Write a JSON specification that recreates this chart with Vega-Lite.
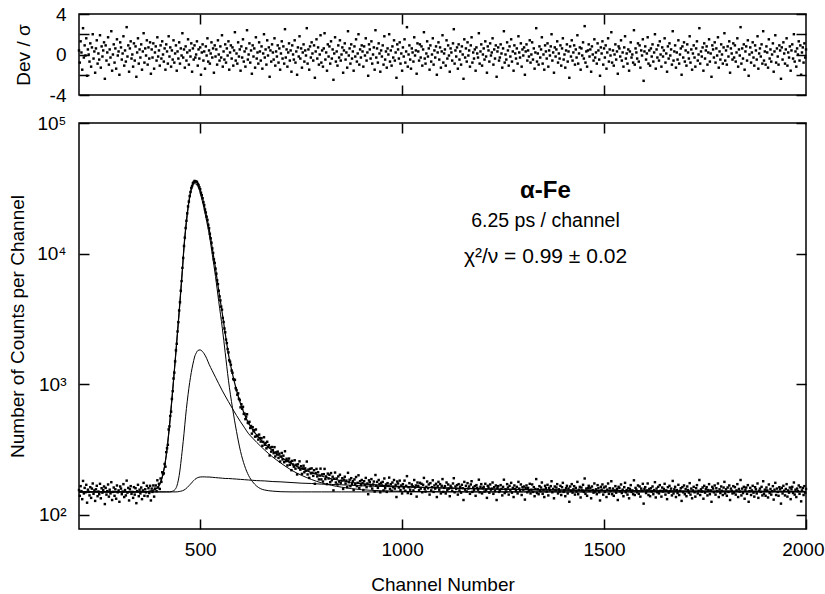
{
"$schema":"https://vega.github.io/schema/vega-lite/v6.json",
"autosize":{"type":"pad"},
"padding":{"left":7,"top":4,"right":0,"bottom":0},
"background":"white",
"config":{"font":"Liberation Sans","view":{"stroke":"#000","strokeWidth":1.5},"axis":{"domain":false,"grid":false,"tickColor":"#000","tickWidth":1.5,"labelColor":"#000","labelFontSize":19,"labelFont":"Liberation Sans","titleColor":"#000","titleFontSize":19,"titleFont":"Liberation Sans","titleFontWeight":"normal"}},
"spacing":7,
"datasets":{
"fit":[
{"c":200,"t":150,"m":150,"p":150,"q":150},{"c":360,"t":150,"m":150,"p":150,"q":150},{"c":370,"t":151,"m":151,"p":150,"q":150},{"c":380,"t":153,"m":153,"p":150,"q":150},{"c":390,"t":158,"m":158,"p":150,"q":150},{"c":400,"t":172,"m":172,"p":150,"q":150},{"c":408,"t":205,"m":205,"p":150,"q":150},{"c":416,"t":285,"m":285,"p":150,"q":150},{"c":424,"t":480,"m":480,"p":150,"q":150},{"c":432,"t":900,"m":898,"p":152,"q":150},{"c":440,"t":1780,"m":1770,"p":160,"q":150},{"c":448,"t":3600,"m":3549,"p":200,"q":151},{"c":456,"t":7600,"m":7427,"p":320,"q":153},{"c":460,"t":11380,"m":11105,"p":420,"q":155},{"c":464,"t":15600,"m":15172,"p":570,"q":158},{"c":468,"t":20320,"m":19718,"p":740,"q":162},{"c":472,"t":25180,"m":24383,"p":930,"q":167},{"c":476,"t":29670,"m":28668,"p":1130,"q":172},{"c":480,"t":33230,"m":32022,"p":1330,"q":178},{"c":484,"t":35380,"m":33977,"p":1520,"q":183},{"c":487,"t":35900,"m":34363,"p":1650,"q":187},{"c":490,"t":35630,"m":34010,"p":1730,"q":190},{"c":494,"t":34440,"m":32737,"p":1810,"q":193},{"c":500,"t":31010,"m":29282,"p":1833,"q":195},{"c":505,"t":27170,"m":25484,"p":1790,"q":195.5},{"c":510,"t":23500,"m":21894,"p":1710,"q":195.5},{"c":516,"t":19200,"m":17725,"p":1580,"q":195},{"c":522,"t":15600,"m":14280,"p":1425,"q":195},{"c":530,"t":11000,"m":9838,"p":1268,"q":194},{"c":538,"t":7700,"m":6676,"p":1131,"q":193},{"c":546,"t":5200,"m":4298,"p":1010,"q":192},{"c":555,"t":3450,"m":2668,"p":891,"q":191},{"c":562,"t":2450,"m":1746,"p":814,"q":190},{"c":570,"t":1700,"m":1074,"p":736,"q":190},{"c":580,"t":1200,"m":660,"p":651,"q":189},{"c":590,"t":900,"m":435,"p":577,"q":188},{"c":600,"t":709,"m":306,"p":516,"q":187},{"c":610,"t":588,"m":238,"p":464,"q":186},{"c":620,"t":503,"m":200,"p":418,"q":185},{"c":630,"t":450,"m":179,"p":387,"q":184},{"c":640,"t":408,"m":166,"p":359,"q":183},{"c":650,"t":376,"m":158.5,"p":335,"q":182.5},{"c":660,"t":350,"m":155,"p":313,"q":182},{"c":680,"t":309,"m":152,"p":277,"q":180},{"c":700,"t":278,"m":150.5,"p":249,"q":179},{"c":725,"t":248,"m":150,"p":221,"q":177},{"c":750,"t":227,"m":150,"p":201.5,"q":175},{"c":775,"t":211,"m":150,"p":187,"q":174},{"c":800,"t":198.5,"m":150,"p":176,"q":172},{"c":850,"t":182.5,"m":150,"p":163,"q":170},{"c":900,"t":173.4,"m":150,"p":156,"q":167},{"c":950,"t":168.3,"m":150,"p":153,"q":165},{"c":1000,"t":165.1,"m":150,"p":151.5,"q":163.6},{"c":1100,"t":161,"m":150,"p":150.4,"q":160.6},{"c":1200,"t":158.2,"m":150,"p":150,"q":158.2},{"c":1300,"t":156.4,"m":150,"p":150,"q":156.4},{"c":1400,"t":155,"m":150,"p":150,"q":155},{"c":1500,"t":153.9,"m":150,"p":150,"q":153.9},{"c":1600,"t":153,"m":150,"p":150,"q":153},{"c":1700,"t":152.4,"m":150,"p":150,"q":152.4},{"c":1800,"t":151.8,"m":150,"p":150,"q":151.8},{"c":1900,"t":151.4,"m":150,"p":150,"q":151.4},{"c":2000,"t":151.1,"m":150,"p":150,"q":151.1}
],
"pts":[
{"c":200,"n":155,"r":0.4},{"c":202,"n":140,"r":-0.8},{"c":204,"n":166,"r":1.3},{"c":206,"n":152,"r":0.2},{"c":208,"n":132,"r":-1.5},{"c":210,"n":182,"r":2.6},{"c":212,"n":146,"r":-0.3},{"c":214,"n":161,"r":0.9},{"c":216,"n":149,"r":-0.1},{"c":218,"n":170,"r":1.6},
{"c":220,"n":124,"r":-2.1},{"c":222,"n":156,"r":0.5},{"c":224,"n":150,"r":0},{"c":226,"n":141,"r":-0.7},{"c":228,"n":163,"r":1.1},{"c":230,"n":135,"r":-1.2},{"c":232,"n":159,"r":0.7},{"c":234,"n":174,"r":2.0},{"c":236,"n":145,"r":-0.4},{"c":238,"n":154,"r":0.3},
{"c":240,"n":128,"r":-1.8},{"c":242,"n":157,"r":0.6},{"c":244,"n":167,"r":1.4},{"c":246,"n":139,"r":-0.9},{"c":248,"n":151,"r":0.1},{"c":250,"n":144,"r":-0.5},{"c":252,"n":173,"r":1.9},{"c":254,"n":134,"r":-1.3},{"c":256,"n":160,"r":0.8},{"c":258,"n":148,"r":-0.2},
{"c":260,"n":155,"r":0.4},{"c":262,"n":165,"r":1.2},{"c":264,"n":121,"r":-2.4},{"c":266,"n":161,"r":0.9},{"c":268,"n":143,"r":-0.6},{"c":270,"n":152,"r":0.2},{"c":272,"n":171,"r":1.7},{"c":274,"n":138,"r":-1.0},{"c":276,"n":156,"r":0.5},{"c":278,"n":146,"r":-0.3},
{"c":280,"n":178,"r":2.3},{"c":282,"n":130,"r":-1.6},{"c":284,"n":150,"r":0},{"c":286,"n":162,"r":1.0},{"c":288,"n":140,"r":-0.8},{"c":290,"n":157,"r":0.6},{"c":292,"n":133,"r":-1.4},{"c":294,"n":168,"r":1.5},{"c":296,"n":149,"r":-0.1},{"c":298,"n":154,"r":0.3},
{"c":300,"n":126,"r":-2.0},{"c":302,"n":165,"r":1.2},{"c":304,"n":159,"r":0.7},{"c":306,"n":144,"r":-0.5},{"c":308,"n":151,"r":0.1},{"c":310,"n":172,"r":1.8},{"c":312,"n":137,"r":-1.1},{"c":314,"n":155,"r":0.4},{"c":316,"n":141,"r":-0.7},{"c":318,"n":183,"r":2.7},
{"c":320,"n":148,"r":-0.2},{"c":322,"n":161,"r":0.9},{"c":324,"n":129,"r":-1.7},{"c":326,"n":157,"r":0.6},{"c":328,"n":166,"r":1.3},{"c":330,"n":145,"r":-0.4},{"c":332,"n":150,"r":0},{"c":334,"n":135,"r":-1.2},{"c":336,"n":163,"r":1.1},{"c":338,"n":143,"r":-0.6},
{"c":340,"n":160,"r":0.8},{"c":342,"n":123,"r":-2.2},{"c":344,"n":152,"r":0.2},{"c":346,"n":170,"r":1.6},{"c":348,"n":139,"r":-0.9},{"c":350,"n":156,"r":0.5},{"c":352,"n":146,"r":-0.3},{"c":354,"n":162,"r":1.0},{"c":356,"n":132,"r":-1.5},{"c":358,"n":154,"r":0.3},
{"c":360,"n":176,"r":2.1},{"c":362,"n":140,"r":-0.8},{"c":364,"n":157,"r":0.6},{"c":366,"n":149,"r":-0.1},{"c":368,"n":167,"r":1.4},{"c":370,"n":139,"r":-1.0},{"c":372,"n":160,"r":0.7},{"c":374,"n":147,"r":-0.4},{"c":376,"n":167,"r":1.2},{"c":378,"n":129,"r":-1.9},
{"c":380,"n":159,"r":0.5},{"c":382,"n":150,"r":-0.3},{"c":384,"n":168,"r":1.1},{"c":386,"n":138,"r":-1.4},{"c":388,"n":159,"r":0.2},{"c":390,"n":168,"r":0.8},{"c":392,"n":152,"r":-0.6},{"c":394,"n":184,"r":1.7},{"c":396,"n":162,"r":-0.2},{"c":398,"n":173,"r":0.4},
{"c":400,"n":158,"r":-1.1},{"c":402,"n":190,"r":0.9},{"c":404,"n":179,"r":-0.4},{"c":406,"n":212,"r":1.3},{"c":408,"n":205,"r":0},{"c":410,"n":208,"r":-0.7},{"c":412,"n":245,"r":0.6},{"c":414,"n":234,"r":-1.5},{"c":416,"n":302,"r":1.0},{"c":418,"n":324,"r":0.3},
{"c":420,"n":344,"r":-0.9},{"c":422,"n":451,"r":1.8},{"c":424,"n":476,"r":-0.2},{"c":426,"n":572,"r":0.7},{"c":428,"n":617,"r":-1.2},{"c":430,"n":772,"r":0.4},{"c":432,"n":885,"r":-0.5},{"c":434,"n":1107,"r":1.4},{"c":436,"n":1228,"r":-0.8},{"c":438,"n":1497,"r":0.1},
{"c":440,"n":1818,"r":0.9},{"c":442,"n":2042,"r":-1.6},{"c":444,"n":2536,"r":0.3},{"c":446,"n":2988,"r":-0.4},{"c":448,"n":3672,"r":1.2},{"c":450,"n":4245,"r":-0.9},{"c":452,"n":5195,"r":0.6},{"c":454,"n":6164,"r":-0.1},{"c":456,"n":7783,"r":2.1},{"c":458,"n":9271,"r":-0.3},
{"c":460,"n":11434,"r":0.5},{"c":462,"n":13259,"r":-1.3},{"c":464,"n":15700,"r":0.8},{"c":466,"n":17840,"r":-0.6},{"c":468,"n":20349,"r":0.2},{"c":470,"n":22987,"r":1.5},{"c":472,"n":25021,"r":-1.0},{"c":474,"n":27576,"r":0.4},{"c":476,"n":29636,"r":-0.2},{"c":478,"n":31796,"r":1.1},
{"c":480,"n":32921,"r":-1.7},{"c":482,"n":34622,"r":0.6},{"c":484,"n":35286,"r":-0.5},{"c":486,"n":36010,"r":0.9},{"c":488,"n":35783,"r":-0.3},{"c":490,"n":35630,"r":0},{"c":492,"n":35383,"r":1.3},{"c":494,"n":34235,"r":-1.1},{"c":496,"n":33552,"r":0.5},{"c":498,"n":32238,"r":-0.4},
{"c":500,"n":31133,"r":0.7},{"c":502,"n":29216,"r":-2.0},{"c":504,"n":27983,"r":0.2},{"c":506,"n":26542,"r":1.0},{"c":508,"n":24805,"r":-0.6},{"c":510,"n":23546,"r":0.3},{"c":512,"n":21763,"r":-1.4},{"c":514,"n":20654,"r":0.8},{"c":516,"n":19186,"r":-0.1},{"c":518,"n":18134,"r":1.6},
{"c":520,"n":16630,"r":-0.7},{"c":522,"n":15650,"r":0.4},{"c":524,"n":14182,"r":-0.9},{"c":526,"n":13101,"r":0.1},{"c":528,"n":12121,"r":1.2},{"c":530,"n":10968,"r":-0.3},{"c":532,"n":10120,"r":0.6},{"c":534,"n":9037,"r":-1.8},{"c":536,"n":8503,"r":0.9},{"c":538,"n":7682,"r":-0.2},
{"c":540,"n":7022,"r":0.5},{"c":542,"n":6250,"r":-1.0},{"c":544,"n":5846,"r":1.4},{"c":546,"n":5200,"r":0},{"c":548,"n":4709,"r":-0.6},{"c":550,"n":4383,"r":0.8},{"c":552,"n":3931,"r":-0.3},{"c":554,"n":3724,"r":1.9},{"c":556,"n":3217,"r":-1.2},{"c":558,"n":2997,"r":0.3},
{"c":560,"n":2674,"r":-0.5},{"c":562,"n":2500,"r":1.0},{"c":564,"n":2198,"r":-0.8},{"c":566,"n":2068,"r":0.6},{"c":568,"n":1859,"r":-0.1},{"c":570,"n":1754,"r":1.3},{"c":572,"n":1526,"r":-1.5},{"c":574,"n":1487,"r":0.2},{"c":576,"n":1412,"r":0.9},{"c":578,"n":1273,"r":-0.4},
{"c":580,"n":1224,"r":0.7},{"c":582,"n":1096,"r":-1.1},{"c":584,"n":1082,"r":0.4},{"c":586,"n":1080,"r":2.2},{"c":588,"n":934,"r":-0.6},{"c":590,"n":903,"r":0.1},{"c":592,"n":832,"r":-0.9},{"c":594,"n":852,"r":1.2},{"c":596,"n":774,"r":-0.2},{"c":598,"n":758,"r":0.5},
{"c":600,"n":666,"r":-1.6},{"c":602,"n":704,"r":0.8},{"c":604,"n":650,"r":-0.3},{"c":606,"n":672,"r":1.5},{"c":608,"n":593,"r":-0.7},{"c":610,"n":595,"r":0.3},{"c":612,"n":541,"r":-1.2},{"c":614,"n":566,"r":0.6},{"c":616,"n":590,"r":2.4},{"c":618,"n":508,"r":-0.5},
{"c":620,"n":503,"r":0},{"c":622,"n":516,"r":1.1},{"c":624,"n":463,"r":-0.8},{"c":626,"n":479,"r":0.4},{"c":628,"n":419,"r":-1.9},{"c":630,"n":469,"r":0.9},{"c":632,"n":437,"r":-0.2},{"c":634,"n":445,"r":0.6},{"c":636,"n":397,"r":-1.3},{"c":638,"n":451,"r":1.7},
{"c":640,"n":400,"r":-0.4},{"c":642,"n":405,"r":0.2},{"c":644,"n":377,"r":-0.9},{"c":646,"n":412,"r":1.2},{"c":648,"n":388,"r":0.3},{"c":650,"n":364,"r":-0.6},{"c":652,"n":386,"r":0.8},{"c":654,"n":338,"r":-1.4},{"c":656,"n":362,"r":0.1},{"c":658,"n":393,"r":2.0},
{"c":660,"n":344,"r":-0.3},{"c":662,"n":355,"r":0.5},{"c":664,"n":323,"r":-1.0},{"c":666,"n":363,"r":1.4},{"c":668,"n":331,"r":-0.1},{"c":670,"n":342,"r":0.7},{"c":672,"n":285,"r":-2.2},{"c":674,"n":328,"r":0.4},{"c":676,"n":305,"r":-0.7},{"c":678,"n":331,"r":1.0},
{"c":680,"n":313,"r":0.2},{"c":682,"n":297,"r":-0.5},{"c":684,"n":330,"r":1.6},{"c":686,"n":280,"r":-1.1},{"c":688,"n":301,"r":0.3},{"c":690,"n":290,"r":-0.2},{"c":692,"n":305,"r":0.9},{"c":694,"n":273,"r":-0.8},{"c":696,"n":294,"r":0.6},{"c":698,"n":256,"r":-1.5},
{"c":700,"n":280,"r":0.1},{"c":702,"n":298,"r":1.3},{"c":704,"n":266,"r":-0.4},{"c":706,"n":284,"r":0.8},{"c":708,"n":253,"r":-0.9},{"c":710,"n":307,"r":2.5},{"c":712,"n":258,"r":-0.3},{"c":714,"n":269,"r":0.5},{"c":716,"n":239,"r":-1.2},{"c":718,"n":259,"r":0.2},
{"c":720,"n":270,"r":1.1},{"c":722,"n":242,"r":-0.6},{"c":724,"n":255,"r":0.4},{"c":726,"n":220,"r":-1.7},{"c":728,"n":259,"r":0.9},{"c":730,"n":243,"r":0},{"c":732,"n":234,"r":-0.5},{"c":734,"n":262,"r":1.4},{"c":736,"n":226,"r":-0.8},{"c":738,"n":242,"r":0.3},
{"c":740,"n":204,"r":-2.0},{"c":742,"n":244,"r":0.7},{"c":744,"n":229,"r":-0.2},{"c":746,"n":257,"r":1.8},{"c":748,"n":222,"r":-0.4},{"c":750,"n":236,"r":0.6},{"c":752,"n":206,"r":-1.3},{"c":754,"n":227,"r":0.2},{"c":756,"n":238,"r":1.0},{"c":758,"n":212,"r":-0.7},
{"c":760,"n":227,"r":0.4},{"c":762,"n":218,"r":-0.1},{"c":764,"n":256,"r":2.6},{"c":766,"n":204,"r":-0.9},{"c":768,"n":222,"r":0.5},{"c":770,"n":192,"r":-1.5},{"c":772,"n":225,"r":0.8},{"c":774,"n":208,"r":-0.3},{"c":776,"n":227,"r":1.2},{"c":778,"n":210,"r":0.1},
{"c":780,"n":199,"r":-0.6},{"c":782,"n":220,"r":0.9},{"c":784,"n":173,"r":-2.3},{"c":786,"n":209,"r":0.3},{"c":788,"n":225,"r":1.5},{"c":790,"n":197,"r":-0.4},{"c":792,"n":212,"r":0.7},{"c":794,"n":187,"r":-1.0},{"c":796,"n":200,"r":0},{"c":798,"n":226,"r":1.9},
{"c":800,"n":187,"r":-0.8},{"c":802,"n":204,"r":0.4},{"c":804,"n":180,"r":-1.2},{"c":806,"n":205,"r":0.6},{"c":808,"n":225,"r":2.1},{"c":810,"n":188,"r":-0.5},{"c":812,"n":197,"r":0.2},{"c":814,"n":172,"r":-1.6},{"c":816,"n":207,"r":1.0},{"c":818,"n":190,"r":-0.2},
{"c":820,"n":203,"r":0.8},{"c":822,"n":178,"r":-0.9},{"c":824,"n":209,"r":1.3},{"c":826,"n":184,"r":-0.4},{"c":828,"n":196,"r":0.5},{"c":830,"n":154,"r":-2.5},{"c":832,"n":189,"r":0.1},{"c":834,"n":211,"r":1.7},{"c":836,"n":177,"r":-0.7},{"c":838,"n":190,"r":0.3},
{"c":840,"n":171,"r":-1.1},{"c":842,"n":197,"r":0.9},{"c":844,"n":180,"r":-0.3},{"c":846,"n":203,"r":1.4},{"c":848,"n":175,"r":-0.6},{"c":850,"n":183,"r":0},{"c":852,"n":191,"r":0.7},{"c":854,"n":158,"r":-1.8},{"c":856,"n":186,"r":0.4},{"c":858,"n":196,"r":1.1},
{"c":860,"n":174,"r":-0.5},{"c":862,"n":183,"r":0.2},{"c":864,"n":163,"r":-1.3},{"c":866,"n":210,"r":2.3},{"c":868,"n":178,"r":-0.1},{"c":870,"n":186,"r":0.6},{"c":872,"n":166,"r":-0.9},{"c":874,"n":191,"r":1.0},{"c":876,"n":172,"r":-0.4},{"c":878,"n":181,"r":0.3},
{"c":880,"n":155,"r":-1.6},{"c":882,"n":187,"r":0.8},{"c":884,"n":173,"r":-0.2},{"c":886,"n":195,"r":1.5},{"c":888,"n":166,"r":-0.7},{"c":890,"n":176,"r":0.1},{"c":892,"n":201,"r":2.0},{"c":894,"n":161,"r":-1.0},{"c":896,"n":181,"r":0.5},{"c":898,"n":169,"r":-0.3},
{"c":900,"n":185,"r":0.9},{"c":902,"n":175,"r":0.3},{"c":904,"n":155,"r":-1.2},{"c":906,"n":181,"r":0.8},{"c":908,"n":170,"r":-0.1},{"c":910,"n":192,"r":1.6},{"c":912,"n":163,"r":-0.6},{"c":914,"n":174,"r":0.2},{"c":916,"n":144,"r":-2.1},{"c":918,"n":184,"r":1.0},
{"c":920,"n":178,"r":0.5},{"c":922,"n":166,"r":-0.4},{"c":924,"n":188,"r":1.3},{"c":926,"n":159,"r":-0.9},{"c":928,"n":171,"r":0},{"c":930,"n":180,"r":0.7},{"c":932,"n":151,"r":-1.5},{"c":934,"n":202,"r":2.4},{"c":936,"n":167,"r":-0.3},{"c":938,"n":179,"r":0.6},
{"c":940,"n":161,"r":-0.8},{"c":942,"n":185,"r":1.1},{"c":944,"n":172,"r":0.1},{"c":946,"n":149,"r":-1.7},{"c":948,"n":176,"r":0.4},{"c":950,"n":168,"r":-0.2},{"c":952,"n":179,"r":0.9},{"c":954,"n":154,"r":-1.0},{"c":956,"n":190,"r":1.8},{"c":958,"n":160,"r":-0.5},
{"c":960,"n":171,"r":0.3},{"c":962,"n":150,"r":-1.3},{"c":964,"n":175,"r":0.6},{"c":966,"n":167,"r":0},{"c":968,"n":193,"r":2.0},{"c":970,"n":158,"r":-0.7},{"c":972,"n":172,"r":0.4},{"c":974,"n":153,"r":-1.1},{"c":976,"n":177,"r":0.8},{"c":978,"n":163,"r":-0.3},
{"c":980,"n":185,"r":1.4},{"c":982,"n":159,"r":-0.6},{"c":984,"n":170,"r":0.2},{"c":986,"n":137,"r":-2.3},{"c":988,"n":180,"r":1.0},{"c":990,"n":174,"r":0.5},{"c":992,"n":162,"r":-0.4},{"c":994,"n":183,"r":1.2},{"c":996,"n":155,"r":-0.9},{"c":998,"n":168,"r":0.1},
{"c":1000,"n":146,"r":-1.6},{"c":1002,"n":172,"r":0.7},{"c":1004,"n":160,"r":-0.2},{"c":1006,"n":183,"r":1.5},{"c":1008,"n":153,"r":-0.8},{"c":1010,"n":167,"r":0.3},{"c":1012,"n":198,"r":2.7},{"c":1014,"n":147,"r":-1.2},{"c":1016,"n":163,"r":0},{"c":1018,"n":175,"r":0.9},
{"c":1020,"n":156,"r":-0.5},{"c":1022,"n":145,"r":-1.4},{"c":1024,"n":171,"r":0.6},{"c":1026,"n":166,"r":0.2},{"c":1028,"n":154,"r":-0.7},{"c":1030,"n":185,"r":1.7},{"c":1032,"n":162,"r":-0.1},{"c":1034,"n":168,"r":0.4},{"c":1036,"n":138,"r":-1.9},{"c":1038,"n":177,"r":1.1},
{"c":1040,"n":167,"r":0.3},{"c":1042,"n":155,"r":-0.6},{"c":1044,"n":176,"r":1.0},{"c":1046,"n":159,"r":-0.3},{"c":1048,"n":173,"r":0.8},{"c":1050,"n":149,"r":-1.1},{"c":1052,"n":170,"r":0.5},{"c":1054,"n":192,"r":2.2},{"c":1056,"n":158,"r":-0.4},{"c":1058,"n":151,"r":-0.9},
{"c":1060,"n":164,"r":0.1},{"c":1062,"n":180,"r":1.3},{"c":1064,"n":160,"r":-0.2},{"c":1066,"n":171,"r":0.6},{"c":1068,"n":143,"r":-1.5},{"c":1070,"n":175,"r":0.9},{"c":1072,"n":154,"r":-0.7},{"c":1074,"n":163,"r":0},{"c":1076,"n":184,"r":1.6},{"c":1078,"n":150,"r":-1.0},
{"c":1080,"n":168,"r":0.4},{"c":1082,"n":159,"r":-0.3},{"c":1084,"n":173,"r":0.8},{"c":1086,"n":137,"r":-2.0},{"c":1088,"n":166,"r":0.2},{"c":1090,"n":179,"r":1.2},{"c":1092,"n":156,"r":-0.5},{"c":1094,"n":172,"r":0.7},{"c":1096,"n":146,"r":-1.3},{"c":1098,"n":167,"r":0.3},
{"c":1100,"n":188,"r":1.9},{"c":1102,"n":150,"r":-0.8},{"c":1104,"n":161,"r":0.1},{"c":1106,"n":166,"r":0.5},{"c":1108,"n":146,"r":-1.1},{"c":1110,"n":177,"r":1.4},{"c":1112,"n":155,"r":-0.4},{"c":1114,"n":171,"r":0.9},{"c":1116,"n":159,"r":-0.1},{"c":1118,"n":139,"r":-1.7},
{"c":1120,"n":167,"r":0.6},{"c":1122,"n":162,"r":0.2},{"c":1124,"n":153,"r":-0.6},{"c":1126,"n":174,"r":1.1},{"c":1128,"n":191,"r":2.5},{"c":1130,"n":149,"r":-0.9},{"c":1132,"n":165,"r":0.4},{"c":1134,"n":158,"r":-0.2},{"c":1136,"n":169,"r":0.7},{"c":1138,"n":143,"r":-1.4},
{"c":1140,"n":172,"r":1.0},{"c":1142,"n":154,"r":-0.5},{"c":1144,"n":164,"r":0.3},{"c":1146,"n":148,"r":-1.0},{"c":1148,"n":170,"r":0.8},{"c":1150,"n":160,"r":0},{"c":1152,"n":130,"r":-2.4},{"c":1154,"n":179,"r":1.5},{"c":1156,"n":156,"r":-0.3},{"c":1158,"n":167,"r":0.6},
{"c":1160,"n":151,"r":-0.7},{"c":1162,"n":175,"r":1.2},{"c":1164,"n":159,"r":-0.1},{"c":1166,"n":165,"r":0.4},{"c":1168,"n":145,"r":-1.2},{"c":1170,"n":171,"r":0.9},{"c":1172,"n":181,"r":1.7},{"c":1174,"n":150,"r":-0.8},{"c":1176,"n":162,"r":0.2},{"c":1178,"n":155,"r":-0.4},
{"c":1180,"n":166,"r":0.5},{"c":1182,"n":140,"r":-1.6},{"c":1184,"n":169,"r":0.7},{"c":1186,"n":161,"r":0.1},{"c":1188,"n":156,"r":-0.3},{"c":1190,"n":186,"r":2.1},{"c":1192,"n":149,"r":-0.9},{"c":1194,"n":164,"r":0.3},{"c":1196,"n":172,"r":1.0},{"c":1198,"n":146,"r":-1.1},
{"c":1200,"n":160,"r":0},{"c":1202,"n":164,"r":0.6},{"c":1204,"n":151,"r":-0.5},{"c":1206,"n":173,"r":1.3},{"c":1208,"n":155,"r":-0.2},{"c":1210,"n":135,"r":-1.8},{"c":1212,"n":167,"r":0.8},{"c":1214,"n":162,"r":0.4},{"c":1216,"n":148,"r":-0.7},{"c":1218,"n":171,"r":1.1},
{"c":1220,"n":156,"r":-0.1},{"c":1222,"n":159,"r":0.2},{"c":1224,"n":177,"r":1.6},{"c":1226,"n":145,"r":-1.0},{"c":1228,"n":163,"r":0.5},{"c":1230,"n":152,"r":-0.4},{"c":1232,"n":168,"r":0.9},{"c":1234,"n":130,"r":-2.2},{"c":1236,"n":161,"r":0.3},{"c":1238,"n":166,"r":0.7},
{"c":1240,"n":150,"r":-0.6},{"c":1242,"n":153,"r":-0.3},{"c":1244,"n":169,"r":1.0},{"c":1246,"n":158,"r":0.1},{"c":1248,"n":141,"r":-1.3},{"c":1250,"n":164,"r":0.6},{"c":1252,"n":186,"r":2.3},{"c":1254,"n":147,"r":-0.8},{"c":1256,"n":157,"r":0},{"c":1258,"n":151,"r":-0.5},
{"c":1260,"n":172,"r":1.2},{"c":1262,"n":162,"r":0.4},{"c":1264,"n":143,"r":-1.1},{"c":1266,"n":167,"r":0.8},{"c":1268,"n":155,"r":-0.2},{"c":1270,"n":176,"r":1.5},{"c":1272,"n":148,"r":-0.7},{"c":1274,"n":161,"r":0.3},{"c":1276,"n":137,"r":-1.6},{"c":1278,"n":168,"r":0.9},
{"c":1280,"n":158,"r":0.1},{"c":1282,"n":152,"r":-0.4},{"c":1284,"n":164,"r":0.6},{"c":1286,"n":146,"r":-0.9},{"c":1288,"n":179,"r":1.8},{"c":1290,"n":159,"r":0.2},{"c":1292,"n":153,"r":-0.3},{"c":1294,"n":171,"r":1.1},{"c":1296,"n":142,"r":-1.2},{"c":1298,"n":163,"r":0.5},
{"c":1300,"n":156,"r":-0.1},{"c":1302,"n":165,"r":0.7},{"c":1304,"n":131,"r":-2.0},{"c":1306,"n":160,"r":0.3},{"c":1308,"n":168,"r":1.0},{"c":1310,"n":149,"r":-0.6},{"c":1312,"n":161,"r":0.4},{"c":1314,"n":154,"r":-0.2},{"c":1316,"n":173,"r":1.4},{"c":1318,"n":146,"r":-0.8},
{"c":1320,"n":156,"r":0},{"c":1322,"n":171,"r":1.2},{"c":1324,"n":150,"r":-0.5},{"c":1326,"n":163,"r":0.6},{"c":1328,"n":139,"r":-1.4},{"c":1330,"n":158,"r":0.2},{"c":1332,"n":188,"r":2.6},{"c":1334,"n":147,"r":-0.7},{"c":1336,"n":157,"r":0.1},{"c":1338,"n":144,"r":-1.0},
{"c":1340,"n":166,"r":0.8},{"c":1342,"n":152,"r":-0.3},{"c":1344,"n":162,"r":0.5},{"c":1346,"n":177,"r":1.7},{"c":1348,"n":145,"r":-0.9},{"c":1350,"n":156,"r":0},{"c":1352,"n":137,"r":-1.5},{"c":1354,"n":167,"r":0.9},{"c":1356,"n":160,"r":0.3},{"c":1358,"n":151,"r":-0.4},
{"c":1360,"n":170,"r":1.1},{"c":1362,"n":141,"r":-1.2},{"c":1364,"n":161,"r":0.4},{"c":1366,"n":155,"r":-0.1},{"c":1368,"n":166,"r":0.8},{"c":1370,"n":181,"r":2.0},{"c":1372,"n":149,"r":-0.6},{"c":1374,"n":158,"r":0.2},{"c":1376,"n":134,"r":-1.8},{"c":1378,"n":165,"r":0.7},
{"c":1380,"n":154,"r":-0.2},{"c":1382,"n":162,"r":0.5},{"c":1384,"n":172,"r":1.3},{"c":1386,"n":146,"r":-0.8},{"c":1388,"n":157,"r":0.1},{"c":1390,"n":151,"r":-0.4},{"c":1392,"n":167,"r":0.9},{"c":1394,"n":142,"r":-1.1},{"c":1396,"n":163,"r":0.6},{"c":1398,"n":176,"r":1.6},
{"c":1400,"n":150,"r":-0.5},{"c":1402,"n":155,"r":0},{"c":1404,"n":139,"r":-1.3},{"c":1406,"n":160,"r":0.4},{"c":1408,"n":167,"r":1.0},{"c":1410,"n":146,"r":-0.7},{"c":1412,"n":159,"r":0.3},{"c":1414,"n":126,"r":-2.3},{"c":1416,"n":165,"r":0.8},{"c":1418,"n":153,"r":-0.2},
{"c":1420,"n":172,"r":1.4},{"c":1422,"n":148,"r":-0.6},{"c":1424,"n":157,"r":0.2},{"c":1426,"n":166,"r":0.9},{"c":1428,"n":143,"r":-1.0},{"c":1430,"n":161,"r":0.5},{"c":1432,"n":151,"r":-0.3},{"c":1434,"n":179,"r":1.9},{"c":1436,"n":144,"r":-0.9},{"c":1438,"n":156,"r":0.1},
{"c":1440,"n":164,"r":0.7},{"c":1442,"n":136,"r":-1.5},{"c":1444,"n":162,"r":0.6},{"c":1446,"n":154,"r":-0.1},{"c":1448,"n":170,"r":1.2},{"c":1450,"n":150,"r":-0.4},{"c":1452,"n":190,"r":2.8},{"c":1454,"n":145,"r":-0.8},{"c":1456,"n":159,"r":0.3},{"c":1458,"n":140,"r":-1.2},
{"c":1460,"n":160,"r":0.4},{"c":1462,"n":167,"r":1.0},{"c":1464,"n":153,"r":-0.2},{"c":1466,"n":161,"r":0.5},{"c":1468,"n":134,"r":-1.7},{"c":1470,"n":165,"r":0.8},{"c":1472,"n":155,"r":0},{"c":1474,"n":148,"r":-0.6},{"c":1476,"n":174,"r":1.5},{"c":1478,"n":151,"r":-0.3},
{"c":1480,"n":157,"r":0.2},{"c":1482,"n":144,"r":-0.9},{"c":1484,"n":169,"r":1.1},{"c":1486,"n":160,"r":0.4},{"c":1488,"n":149,"r":-0.5},{"c":1490,"n":129,"r":-2.1},{"c":1492,"n":164,"r":0.7},{"c":1494,"n":156,"r":0.1},{"c":1496,"n":171,"r":1.3},{"c":1498,"n":143,"r":-1.0},
{"c":1500,"n":162,"r":0.6},{"c":1502,"n":150,"r":-0.3},{"c":1504,"n":165,"r":0.9},{"c":1506,"n":137,"r":-1.4},{"c":1508,"n":156,"r":0.2},{"c":1510,"n":174,"r":1.6},{"c":1512,"n":145,"r":-0.7},{"c":1514,"n":160,"r":0.5},{"c":1516,"n":153,"r":-0.1},{"c":1518,"n":181,"r":2.2},
{"c":1520,"n":144,"r":-0.8},{"c":1522,"n":159,"r":0.4},{"c":1524,"n":140,"r":-1.1},{"c":1526,"n":154,"r":0},{"c":1528,"n":166,"r":1.0},{"c":1530,"n":148,"r":-0.5},{"c":1532,"n":158,"r":0.3},{"c":1534,"n":130,"r":-1.9},{"c":1536,"n":164,"r":0.8},{"c":1538,"n":161,"r":0.6},
{"c":1540,"n":152,"r":-0.2},{"c":1542,"n":171,"r":1.4},{"c":1544,"n":147,"r":-0.6},{"c":1546,"n":156,"r":0.2},{"c":1548,"n":139,"r":-1.2},{"c":1550,"n":163,"r":0.7},{"c":1552,"n":176,"r":1.8},{"c":1554,"n":149,"r":-0.4},{"c":1556,"n":155,"r":0.1},{"c":1558,"n":143,"r":-0.9},
{"c":1560,"n":160,"r":0.5},{"c":1562,"n":134,"r":-1.6},{"c":1564,"n":158,"r":0.3},{"c":1566,"n":169,"r":1.2},{"c":1568,"n":150,"r":-0.3},{"c":1570,"n":154,"r":0},{"c":1572,"n":144,"r":-0.8},{"c":1574,"n":184,"r":2.4},{"c":1576,"n":142,"r":-1.0},{"c":1578,"n":161,"r":0.6},
{"c":1580,"n":156,"r":0.2},{"c":1582,"n":149,"r":-0.4},{"c":1584,"n":168,"r":1.1},{"c":1586,"n":145,"r":-0.7},{"c":1588,"n":165,"r":0.9},{"c":1590,"n":138,"r":-1.3},{"c":1592,"n":159,"r":0.4},{"c":1594,"n":153,"r":-0.1},{"c":1596,"n":173,"r":1.5},{"c":1598,"n":122,"r":-2.6},
{"c":1600,"n":158,"r":0.3},{"c":1602,"n":163,"r":0.8},{"c":1604,"n":147,"r":-0.5},{"c":1606,"n":154,"r":0.1},{"c":1608,"n":174,"r":1.7},{"c":1610,"n":142,"r":-0.9},{"c":1612,"n":158,"r":0.4},{"c":1614,"n":139,"r":-1.1},{"c":1616,"n":160,"r":0.6},{"c":1618,"n":151,"r":-0.2},
{"c":1620,"n":165,"r":1.0},{"c":1622,"n":144,"r":-0.7},{"c":1624,"n":155,"r":0.2},{"c":1626,"n":178,"r":2.0},{"c":1628,"n":136,"r":-1.4},{"c":1630,"n":159,"r":0.5},{"c":1632,"n":149,"r":-0.3},{"c":1634,"n":164,"r":0.9},{"c":1636,"n":146,"r":-0.6},{"c":1638,"n":169,"r":1.3},
{"c":1640,"n":153,"r":0},{"c":1642,"n":138,"r":-1.2},{"c":1644,"n":162,"r":0.7},{"c":1646,"n":151,"r":-0.2},{"c":1648,"n":158,"r":0.4},{"c":1650,"n":173,"r":1.6},{"c":1652,"n":143,"r":-0.8},{"c":1654,"n":154,"r":0.1},{"c":1656,"n":132,"r":-1.7},{"c":1658,"n":163,"r":0.8},
{"c":1660,"n":148,"r":-0.4},{"c":1662,"n":167,"r":1.1},{"c":1664,"n":152,"r":-0.1},{"c":1666,"n":159,"r":0.5},{"c":1668,"n":141,"r":-1.0},{"c":1670,"n":182,"r":2.3},{"c":1672,"n":146,"r":-0.6},{"c":1674,"n":157,"r":0.3},{"c":1676,"n":164,"r":0.9},{"c":1678,"n":137,"r":-1.3},
{"c":1680,"n":155,"r":0.2},{"c":1682,"n":147,"r":-0.5},{"c":1684,"n":170,"r":1.4},{"c":1686,"n":142,"r":-0.9},{"c":1688,"n":153,"r":0},{"c":1690,"n":160,"r":0.6},{"c":1692,"n":128,"r":-2.0},{"c":1694,"n":163,"r":0.8},{"c":1696,"n":149,"r":-0.3},{"c":1698,"n":168,"r":1.2},
{"c":1700,"n":144,"r":-0.7},{"c":1702,"n":158,"r":0.4},{"c":1704,"n":139,"r":-1.1},{"c":1706,"n":165,"r":1.0},{"c":1708,"n":155,"r":0.2},{"c":1710,"n":148,"r":-0.4},{"c":1712,"n":175,"r":1.8},{"c":1714,"n":143,"r":-0.8},{"c":1716,"n":159,"r":0.5},{"c":1718,"n":134,"r":-1.5},
{"c":1720,"n":154,"r":0.1},{"c":1722,"n":164,"r":0.9},{"c":1724,"n":149,"r":-0.3},{"c":1726,"n":138,"r":-1.2},{"c":1728,"n":160,"r":0.6},{"c":1730,"n":169,"r":1.3},{"c":1732,"n":146,"r":-0.6},{"c":1734,"n":153,"r":0},{"c":1736,"n":185,"r":2.6},{"c":1738,"n":142,"r":-0.9},
{"c":1740,"n":157,"r":0.3},{"c":1742,"n":151,"r":-0.2},{"c":1744,"n":162,"r":0.7},{"c":1746,"n":133,"r":-1.6},{"c":1748,"n":167,"r":1.1},{"c":1750,"n":148,"r":-0.4},{"c":1752,"n":158,"r":0.4},{"c":1754,"n":163,"r":0.8},{"c":1756,"n":141,"r":-1.0},{"c":1758,"n":155,"r":0.2},
{"c":1760,"n":172,"r":1.5},{"c":1762,"n":144,"r":-0.7},{"c":1764,"n":154,"r":0.1},{"c":1766,"n":126,"r":-2.2},{"c":1768,"n":164,"r":0.9},{"c":1770,"n":159,"r":0.5},{"c":1772,"n":149,"r":-0.3},{"c":1774,"n":168,"r":1.2},{"c":1776,"n":143,"r":-0.8},{"c":1778,"n":160,"r":0.6},
{"c":1780,"n":152,"r":-0.1},{"c":1782,"n":174,"r":1.7},{"c":1784,"n":137,"r":-1.3},{"c":1786,"n":157,"r":0.3},{"c":1788,"n":147,"r":-0.5},{"c":1790,"n":165,"r":1.0},{"c":1792,"n":153,"r":0},{"c":1794,"n":142,"r":-0.9},{"c":1796,"n":162,"r":0.7},{"c":1798,"n":179,"r":2.1},
{"c":1800,"n":146,"r":-0.6},{"c":1802,"n":157,"r":0.4},{"c":1804,"n":140,"r":-1.0},{"c":1806,"n":162,"r":0.8},{"c":1808,"n":150,"r":-0.2},{"c":1810,"n":168,"r":1.3},{"c":1812,"n":130,"r":-1.8},{"c":1814,"n":159,"r":0.6},{"c":1816,"n":153,"r":0.1},{"c":1818,"n":146,"r":-0.5},
{"c":1820,"n":166,"r":1.1},{"c":1822,"n":148,"r":-0.3},{"c":1824,"n":163,"r":0.9},{"c":1826,"n":143,"r":-0.7},{"c":1828,"n":154,"r":0.2},{"c":1830,"n":172,"r":1.6},{"c":1832,"n":137,"r":-1.2},{"c":1834,"n":158,"r":0.5},{"c":1836,"n":151,"r":-0.1},{"c":1838,"n":185,"r":2.7},
{"c":1840,"n":141,"r":-0.9},{"c":1842,"n":159,"r":0.6},{"c":1844,"n":147,"r":-0.4},{"c":1846,"n":164,"r":1.0},{"c":1848,"n":133,"r":-1.5},{"c":1850,"n":156,"r":0.3},{"c":1852,"n":162,"r":0.8},{"c":1854,"n":145,"r":-0.6},{"c":1856,"n":169,"r":1.4},{"c":1858,"n":126,"r":-2.1},
{"c":1860,"n":152,"r":0},{"c":1862,"n":161,"r":0.7},{"c":1864,"n":142,"r":-0.8},{"c":1866,"n":154,"r":0.2},{"c":1868,"n":167,"r":1.2},{"c":1870,"n":148,"r":-0.3},{"c":1872,"n":138,"r":-1.1},{"c":1874,"n":163,"r":0.9},{"c":1876,"n":157,"r":0.4},{"c":1878,"n":146,"r":-0.5},
{"c":1880,"n":174,"r":1.8},{"c":1882,"n":135,"r":-1.4},{"c":1884,"n":153,"r":0.1},{"c":1886,"n":159,"r":0.6},{"c":1888,"n":150,"r":-0.2},{"c":1890,"n":164,"r":1.0},{"c":1892,"n":141,"r":-0.9},{"c":1894,"n":181,"r":2.3},{"c":1896,"n":145,"r":-0.6},{"c":1898,"n":156,"r":0.3},
{"c":1900,"n":140,"r":-1.0},{"c":1902,"n":162,"r":0.8},{"c":1904,"n":154,"r":0.2},{"c":1906,"n":136,"r":-1.3},{"c":1908,"n":171,"r":1.5},{"c":1910,"n":147,"r":-0.4},{"c":1912,"n":158,"r":0.5},{"c":1914,"n":143,"r":-0.7},{"c":1916,"n":152,"r":0},{"c":1918,"n":166,"r":1.1},
{"c":1920,"n":131,"r":-1.7},{"c":1922,"n":156,"r":0.3},{"c":1924,"n":176,"r":1.9},{"c":1926,"n":142,"r":-0.8},{"c":1928,"n":159,"r":0.6},{"c":1930,"n":150,"r":-0.2},{"c":1932,"n":140,"r":-1.0},{"c":1934,"n":163,"r":0.9},{"c":1936,"n":157,"r":0.4},{"c":1938,"n":122,"r":-2.4},
{"c":1940,"n":161,"r":0.7},{"c":1942,"n":146,"r":-0.5},{"c":1944,"n":167,"r":1.2},{"c":1946,"n":153,"r":0.1},{"c":1948,"n":141,"r":-0.9},{"c":1950,"n":158,"r":0.5},{"c":1952,"n":172,"r":1.6},{"c":1954,"n":138,"r":-1.1},{"c":1956,"n":154,"r":0.2},{"c":1958,"n":148,"r":-0.3},
{"c":1960,"n":162,"r":0.8},{"c":1962,"n":132,"r":-1.6},{"c":1964,"n":157,"r":0.4},{"c":1966,"n":164,"r":1.0},{"c":1968,"n":147,"r":-0.4},{"c":1970,"n":177,"r":2.0},{"c":1972,"n":143,"r":-0.7},{"c":1974,"n":156,"r":0.3},{"c":1976,"n":137,"r":-1.2},{"c":1978,"n":159,"r":0.6},
{"c":1980,"n":152,"r":0},{"c":1982,"n":168,"r":1.3},{"c":1984,"n":145,"r":-0.6},{"c":1986,"n":163,"r":0.9},{"c":1988,"n":127,"r":-2.0},{"c":1990,"n":154,"r":0.2},{"c":1992,"n":161,"r":0.7},{"c":1994,"n":142,"r":-0.8},{"c":1996,"n":166,"r":1.1},{"c":1998,"n":148,"r":-0.3},
{"c":2000,"n":158,"r":0.5}
]
},
"vconcat":[
{
"width":727,"height":81,
"layer":[
{"data":{"name":"pts"},"mark":{"type":"point","shape":"square","filled":true,"size":6,"color":"#000","opacity":1},
"encoding":{
"x":{"field":"c","type":"quantitative","scale":{"domain":[200,2000],"nice":false,"zero":false},"axis":{"orient":"bottom","values":[500,1000,1500],"labels":false,"tickSize":-10,"title":null}},
"y":{"field":"r","type":"quantitative","scale":{"domain":[-4,4],"nice":false,"zero":false},"axis":{"orient":"left","values":[-4,-2,0,2,4],"tickSize":-10,"labelPadding":23,"labelFlush":false,"labelExpr":"datum.value == 4 ? '4' : datum.value == 0 ? '0' : datum.value == -4 ? '-4' : ''","title":"Dev / σ","titlePadding":16}}}},
{"mark":{"type":"rule","color":"#000","strokeWidth":1},"encoding":{"y":{"datum":0,"type":"quantitative","axis":null}}},
{"data":{"name":"pts"},"mark":{"type":"point","opacity":0},
"encoding":{
"x":{"field":"c","type":"quantitative","axis":{"orient":"top","values":[500,1000,1500],"labels":false,"tickSize":-10,"title":null}},
"y":{"field":"r","type":"quantitative","axis":{"orient":"right","values":[-4,-2,0,2,4],"labels":false,"tickSize":-10,"title":null}}}}
],
"resolve":{"axis":{"x":"independent","y":"independent"}}
},
{
"width":727,"height":406,
"layer":[
{"data":{"name":"pts"},"mark":{"type":"point","shape":"square","filled":true,"size":6,"color":"#000","opacity":1},
"encoding":{
"x":{"field":"c","type":"quantitative","scale":{"domain":[200,2000],"nice":false,"zero":false},"axis":{"orient":"bottom","values":[500,1000,1500,2000],"format":"d","tickSize":-10,"labelPadding":21,"labelFlush":true,"labelFlushOffset":18,"title":"Channel Number","titlePadding":16}},
"y":{"field":"n","type":"quantitative","scale":{"type":"log","domain":[78,100000],"nice":false},"axis":{"orient":"left","values":[100,1000,10000,100000],"tickSize":-10,"labelPadding":23,"labelFlush":false,"labelExpr":"'10' + (datum.value >= 100000 ? '⁵' : datum.value >= 10000 ? '⁴' : datum.value >= 1000 ? '³' : '²')","title":"Number of Counts per Channel","titlePadding":9}}}},
{"data":{"name":"fit"},"mark":{"type":"line","color":"#000","strokeWidth":1.2,"interpolate":"monotone"},"encoding":{"x":{"field":"c","type":"quantitative","axis":null},"y":{"field":"t","type":"quantitative","axis":null}}},
{"data":{"name":"fit"},"mark":{"type":"line","color":"#000","strokeWidth":1,"interpolate":"monotone"},"encoding":{"x":{"field":"c","type":"quantitative","axis":null},"y":{"field":"m","type":"quantitative","axis":null}}},
{"data":{"name":"fit"},"mark":{"type":"line","color":"#000","strokeWidth":1,"interpolate":"monotone"},"encoding":{"x":{"field":"c","type":"quantitative","axis":null},"y":{"field":"p","type":"quantitative","axis":null}}},
{"data":{"name":"fit"},"mark":{"type":"line","color":"#000","strokeWidth":1,"interpolate":"monotone"},"encoding":{"x":{"field":"c","type":"quantitative","axis":null},"y":{"field":"q","type":"quantitative","axis":null}}},
{"data":{"values":[{"c":1355,"v":26700,"s":"α-Fe"}]},"mark":{"type":"text","fontSize":24,"fontWeight":"bold","align":"center","baseline":"alphabetic","color":"#000","font":"Liberation Sans"},"encoding":{"x":{"field":"c","type":"quantitative","axis":null},"y":{"field":"v","type":"quantitative","axis":null},"text":{"field":"s"}}},
{"data":{"values":[{"c":1355,"v":16000,"s":"6.25 ps / channel"}]},"mark":{"type":"text","fontSize":19.5,"align":"center","baseline":"alphabetic","color":"#000","font":"Liberation Sans"},"encoding":{"x":{"field":"c","type":"quantitative","axis":null},"y":{"field":"v","type":"quantitative","axis":null},"text":{"field":"s"}}},
{"data":{"values":[{"c":1355,"v":8500,"s":"χ²/ν = 0.99 ± 0.02"}]},"mark":{"type":"text","fontSize":21,"align":"center","baseline":"alphabetic","color":"#000","font":"Liberation Sans"},"encoding":{"x":{"field":"c","type":"quantitative","axis":null},"y":{"field":"v","type":"quantitative","axis":null},"text":{"field":"s"}}},
{"data":{"name":"fit"},"mark":{"type":"point","opacity":0},
"encoding":{
"x":{"field":"c","type":"quantitative","axis":{"orient":"top","values":[500,1000,1500],"labels":false,"tickSize":-10,"title":null}},
"y":{"field":"t","type":"quantitative","axis":{"orient":"right","values":[100,1000,10000,100000],"labels":false,"tickSize":-10,"title":null}}}}
],
"resolve":{"axis":{"x":"independent","y":"independent"}}
}
]
}
